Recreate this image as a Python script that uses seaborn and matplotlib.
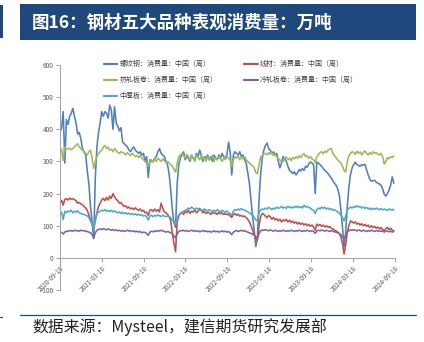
import numpy as np
import pandas as pd
import matplotlib
matplotlib.use("Agg")
import matplotlib.pyplot as plt
import matplotlib.dates as mdates
from matplotlib.patches import Rectangle
from matplotlib.lines import Line2D
import seaborn as sns

# ---------------- data (weekly, from 2020-09-18) ----------------
start_date = "2020-09-18"

rebar = [
    390, 405, 455, 295, 430, 415, 440, 450, 465, 440, 420, 385, 390, 370, 340,
    330, 320, 270, 230, 160, 110, 60, 250, 345, 390,
    420, 455, 440, 455, 450, 435, 475, 460, 400, 470,
    420, 410, 395, 405, 360, 355, 350, 345, 335, 330,
    340, 345, 335, 330, 325, 330, 320, 325, 300, 315,
    250, 305, 300, 300, 310, 315, 330, 340, 325, 320,
    315, 300, 290,
    260, 210, 150, 110, 95, 230, 290, 310, 320, 330,
    305, 315, 310, 300, 320, 310, 305, 325, 315, 335,
    320, 300, 315, 310, 320, 305, 315, 300, 320, 310,
    305, 320, 310, 325, 315, 310, 320, 360, 330, 258,
    320, 330, 325, 320, 330, 315, 320, 305, 295, 265,
    232, 180,
    127, 85, 35, 60, 180, 260, 310, 335, 350, 357,
    340, 335, 325, 330, 320, 325, 300, 280, 295, 315,
    308, 300, 285, 272, 268, 262, 268, 258, 265, 275,
    270, 278, 272, 285, 282, 292, 298, 295, 290, 200,
    298, 295, 290, 285, 278, 272, 268, 262, 255, 248,
    240, 232,
    226, 215, 195, 150, 95, 34, 80, 160, 220, 260,
    280, 290, 298, 290, 288, 285, 290, 288, 291, 275,
    258, 245, 238, 240, 241, 236, 232, 230, 226, 215,
    198, 192, 200, 210, 226, 252, 232,
]

wire_rod = [
    169, 179, 164, 182, 184, 180, 186, 182, 184, 181, 178, 170, 172, 168, 165,
    160, 155, 148, 133, 118, 105, 92, 115, 140, 160,
    170, 180, 185, 178, 188, 180, 192, 185, 200, 190,
    182, 178, 170, 172, 165, 160, 162, 155, 158, 152,
    155, 150, 156, 150, 148, 152, 145, 148, 140, 142,
    132, 148, 150, 145, 152, 145, 150, 143, 170, 155,
    143, 140, 135,
    128, 115, 76, 45, 19, 112, 130, 138, 142, 135,
    145, 140, 148, 138, 145, 142, 150, 140, 145, 154,
    148, 140, 145, 138, 142, 140, 135, 143, 138, 140,
    135, 142, 137, 140, 135, 138, 134, 136, 130, 126,
    135, 138, 132, 136, 130, 132, 128, 130, 125, 120,
    112, 100,
    86, 72, 60, 55, 100, 128, 138, 135, 130, 125,
    132, 128, 120, 126, 118, 122, 115, 120, 112, 118,
    115, 120, 112, 117, 110, 114, 108, 112, 105, 110,
    104, 108, 102, 106, 100, 104, 98, 102, 96, 86,
    105, 100, 104, 98, 102, 96, 100, 95, 98, 92,
    90, 86,
    84, 80, 75, 65, 45, 12, 40, 80, 100, 115,
    112, 108, 112, 105, 108, 102, 106, 100, 104, 98,
    102, 95, 100, 94, 98, 92, 96, 90, 94, 88,
    85, 90, 95, 88, 92, 86, 84,
]

hot_rolled = [
    330, 338, 303, 345, 340, 338, 342, 336, 340, 345, 350, 355, 345, 340, 335,
    330, 325, 320, 330, 335, 310, 278, 300, 314, 325,
    330, 335, 345, 350, 340, 345, 335, 338, 330, 340,
    335, 328, 325, 330, 328, 325, 320, 328, 322, 318,
    325, 320, 315, 318, 312, 320, 310, 305, 300, 295,
    285, 300, 305, 298, 308, 300, 310, 305, 300, 308,
    302, 298, 300,
    296, 290, 285, 275, 267, 295, 315, 320, 325, 318,
    310, 322, 315, 305, 318, 310, 300, 320, 312, 305,
    318, 308, 312, 300, 315, 305, 310, 318, 300, 312,
    305, 315, 308, 300, 312, 305, 315, 310, 303, 285,
    305, 315, 310, 318, 305, 312, 308, 315, 305, 300,
    295, 290,
    287, 280, 265, 262, 290, 314, 318, 324, 325, 320,
    328, 322, 326, 318, 322, 315, 308, 305, 298, 300,
    310, 314, 305, 310, 303, 312, 308, 315, 310, 318,
    312, 320, 324, 315, 318, 310, 315, 308, 305, 296,
    315, 320, 328, 330, 324, 332, 328, 335, 338, 340,
    325, 318,
    312, 305, 300, 295, 285, 272, 267, 300, 318, 325,
    330, 328, 322, 332, 325, 330, 320, 328, 333, 325,
    320, 328, 322, 330, 325, 328, 322, 320, 325, 315,
    292, 300, 312, 308, 315, 312, 318,
]

cold_rolled = [
    81, 79, 74, 80, 83, 82, 85, 84, 83, 86, 84, 85, 83, 86, 84,
    85, 83, 82, 80, 78, 72, 62, 78, 86, 88,
    90, 88, 91, 89, 87, 90, 88, 86, 88, 85,
    87, 84, 86, 83, 85, 82, 84, 86, 83, 85,
    82, 84, 81, 83, 80, 82, 78, 80, 79, 76,
    70, 80, 83, 81, 84, 82, 85, 83, 86, 84,
    82, 80, 82,
    80, 78, 75, 68, 62, 75, 82, 85, 84, 86,
    83, 85, 82, 84, 86, 83, 85, 82, 84, 81,
    83, 85, 82, 84, 81, 83, 80, 82, 84, 81,
    83, 80, 82, 84, 81, 83, 80, 82, 78, 72,
    80, 83, 85, 82, 84, 86, 83, 85, 82, 80,
    78, 76,
    74, 70, 66, 62, 75, 84, 87, 85, 88, 86,
    84, 87, 85, 83, 86, 84, 82, 85, 83, 86,
    84, 82, 85, 83, 86, 84, 82, 85, 83, 86,
    84, 82, 85, 83, 86, 84, 82, 85, 82, 76,
    84, 86, 84, 87, 85, 83, 86, 84, 82, 85,
    83, 81,
    80, 78, 76, 72, 66, 60, 70, 80, 85, 87,
    85, 88, 86, 84, 87, 85, 83, 86, 84, 82,
    85, 83, 86, 84, 82, 85, 83, 84, 82, 85,
    80, 83, 84, 81, 83, 80, 82,
]

plate = [
    140, 142, 119, 145, 140, 146, 143, 148, 140, 145, 142, 147, 140, 138, 136,
    135, 133, 130, 125, 115, 105, 88, 120, 138, 142,
    145, 148, 146, 150, 145, 148, 144, 148, 143, 146,
    142, 140, 143, 138, 142, 138, 140, 136, 139, 135,
    138, 134, 137, 133, 136, 132, 134, 130, 132, 128,
    118, 130, 133, 128, 132, 130, 134, 131, 128, 133,
    130, 128, 130,
    128, 125, 118, 110, 105, 125, 133, 138, 142, 145,
    148, 150, 155, 152, 158, 154, 150, 155, 152, 148,
    150, 147, 152, 149, 146, 150, 147, 144, 148, 145,
    150, 146, 143, 148, 145, 142, 146, 140, 138, 132,
    145, 150, 148, 152, 149, 153, 150, 148, 146, 143,
    140, 136,
    132, 126, 118, 115, 140, 148, 152, 150, 155, 152,
    157, 154, 150, 155, 152, 158, 154, 156, 160, 155,
    158, 154, 160, 156, 158, 155, 160, 157, 161, 156,
    159, 155, 164, 158, 160, 156, 155, 150, 148, 138,
    150, 155, 152, 158, 154, 157, 152, 155, 150, 153,
    148, 150,
    146, 143, 140, 133, 125, 115, 130, 150, 154, 158,
    155, 160, 157, 162, 158, 160, 155, 158, 154, 157,
    152, 155, 150, 154, 151, 155, 152, 150, 153, 149,
    152, 150, 148, 152, 149, 151, 148,
]

series_names = [
    "螺纹钢：消费量：中国（周）",
    "线材：消费量：中国（周）",
    "热轧板卷：消费量：中国（周）",
    "冷轧板卷：消费量：中国（周）",
    "中厚板：消费量：中国（周）",
]
series_values = [rebar, wire_rod, hot_rolled, cold_rolled, plate]
colors = ["#4F81BD", "#C0504D", "#9BBB59", "#8064A2", "#4BACC6"]

tick_dates = ["2020-09-18", "2021-03-18", "2021-09-18", "2022-03-18",
              "2022-09-18", "2023-03-18", "2023-09-18", "2024-03-18",
              "2024-09-18"]
y_ticks = [-100, 0, 100, 200, 300, 400, 500, 600]

title_text = "图16：钢材五大品种表观消费量：万吨"
source_text = "数据来源：Mysteel，建信期货研究发展部"

# ---------------- build long table ----------------
frames = []
for name, vals in zip(series_names, series_values):
    d = pd.date_range(start_date, periods=len(vals), freq="7D")
    frames.append(pd.DataFrame({"date": d, "value": vals, "series": name}))
df = pd.concat(frames, ignore_index=True)

# ---------------- style ----------------
sns.set_theme(style="white")
plt.rcParams["font.family"] = ["Noto Sans CJK SC", "DejaVu Sans"]
plt.rcParams["axes.unicode_minus"] = False

W, H = 424, 342
fig = plt.figure(figsize=(W / 100, H / 100), dpi=100)
fig.patch.set_facecolor("white")

navy = "#1F497D"
# title bar
fig.patches.append(Rectangle((20 / W, 1 - 40 / H), 396 / W, 36 / H,
                             transform=fig.transFigure, facecolor=navy,
                             edgecolor="none", zorder=0))
fig.patches.append(Rectangle((0, 1 - 38 / H), 2.7 / W, 33 / H,
                             transform=fig.transFigure, facecolor=navy,
                             edgecolor="none", zorder=0))
fig.text(32 / W, 1 - 23 / H, title_text, color="white", fontsize=12.6,
         ha="left", va="center", fontweight="bold")

# bottom rule + source
fig.add_artist(Line2D([20 / W, 416 / W], [1 - 315 / H, 1 - 315 / H],
                      transform=fig.transFigure, color=navy, lw=0.9))
fig.add_artist(Line2D([0, 2 / W], [1 - 317 / H, 1 - 317 / H],
                      transform=fig.transFigure, color=navy, lw=0.9))
fig.text(32 / W, 1 - 327 / H, source_text, color="#222222", fontsize=11.4,
         ha="left", va="center", style="italic")

# axes
ax = fig.add_axes([60 / W, 1 - 290 / H, 335 / W, 225 / H])
sns.lineplot(data=df, x="date", y="value", hue="series",
             hue_order=series_names, palette=colors, linewidth=1.15,
             ax=ax, legend=False)

ax.set_xlim(pd.Timestamp(tick_dates[0]), pd.Timestamp(tick_dates[-1]))
ax.set_ylim(-100, 600)
ax.set_yticks(y_ticks)
ax.set_xticks([pd.Timestamp(t) for t in tick_dates])
ax.xaxis.set_major_formatter(mdates.DateFormatter("%Y-%m-%d"))
ax.set_xlabel("")
ax.set_ylabel("")

for s in ["top", "right"]:
    ax.spines[s].set_visible(False)
ax.spines["left"].set_color("#A6A6A6")
ax.spines["bottom"].set_color("#A6A6A6")
ax.spines["left"].set_linewidth(0.8)
ax.spines["bottom"].set_linewidth(0.8)
ax.spines["bottom"].set_position(("data", 0))

ax.tick_params(axis="both", which="major", length=3, width=0.7,
               color="#A6A6A6", labelcolor="#595959", labelsize=4.6,
               direction="out", pad=1.5)
ax.tick_params(axis="x", bottom=True)
ax.tick_params(axis="y", left=True)
for lbl in ax.get_xticklabels():
    lbl.set_rotation(45)
    lbl.set_ha("right")
    lbl.set_rotation_mode("anchor")

# legend (row-wise order like the reference)
handles = [Line2D([0], [0], color=c, lw=1.6) for c in colors]
order = [0, 2, 4, 1, 3]
fig.legend([handles[i] for i in order], [series_names[i] for i in order],
           loc="upper left", bbox_to_anchor=(104 / W, 1 - 60 / H),
           bbox_transform=fig.transFigure, ncol=2, frameon=False,
           fontsize=5, handlelength=1.9, handletextpad=0.3,
           columnspacing=3.9, labelspacing=1.15, borderpad=0,
           borderaxespad=0, labelcolor="#404040")

fig.savefig("out.png", dpi=100, facecolor="white")
